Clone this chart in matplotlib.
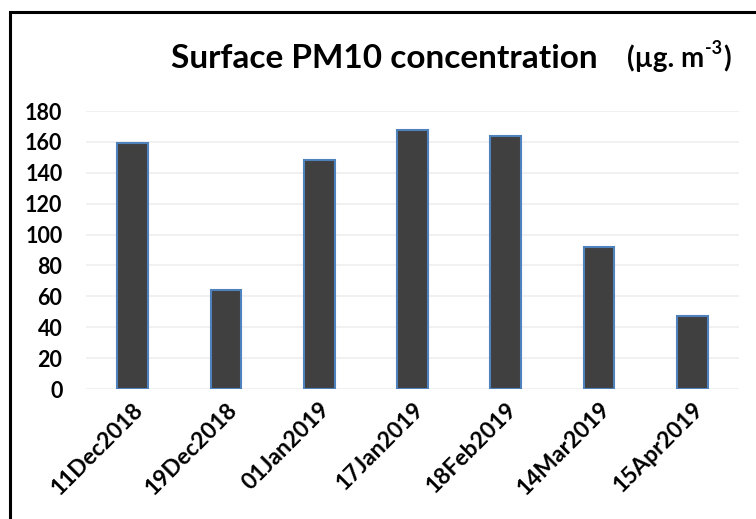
import matplotlib.pyplot as plt
from matplotlib.patches import Rectangle

# Sampling dates and surface PM10 values
dates = ['11Dec2018', '19Dec2018', '01Jan2019', '17Jan2019',
         '18Feb2019', '14Mar2019', '15Apr2019']
pm10 = [159, 64, 148, 168, 164, 92, 47]
yticks = [0, 20, 40, 60, 80, 100, 120, 140, 160, 180]

plt.rcParams['font.family'] = ['Lato', 'DejaVu Sans']
W, H = 756, 519

fig = plt.figure(figsize=(W / 100, H / 100), dpi=100)
ax = fig.add_axes([86 / W, 1 - 389 / H, (739 - 86) / W, (389 - 111) / H])

x = range(len(dates))
ax.bar(x, pm10, width=0.33, color='#404040', edgecolor='#4f81bd', linewidth=1.5, zorder=3)

ax.set_xlim(-0.5, len(dates) - 0.5)
ax.set_ylim(0, 180)
ax.set_yticks(yticks)
ax.set_yticklabels([str(t) for t in yticks], fontsize=15.5, fontweight='bold')
ax.set_xticks(list(x))
ax.set_xticklabels(dates, rotation=45, ha='right', rotation_mode='anchor',
                   fontsize=16.5, fontweight='bold')
ax.tick_params(length=0)
ax.tick_params(axis='x', pad=7)
ax.tick_params(axis='y', pad=17)
ax.grid(axis='y', color='#efefef', linewidth=1.2, zorder=0)
for s in ax.spines.values():
    s.set_visible(False)

# title, then units with a superscript
fig.text(171 / W, 1 - 68 / H, 'Surface PM10 concentration', fontsize=24,
         fontweight='bold', va='baseline', ha='left')
r = fig.canvas.get_renderer()
u1 = fig.text(627 / W, 1 - 67 / H, '(µg. m', fontsize=20, fontweight='bold',
              va='baseline', ha='left')
e1 = u1.get_window_extent(r)
u2 = fig.text(e1.x1 / W + 1 / W, 1 - 54 / H, '-3', fontsize=13, fontweight='bold',
              va='baseline', ha='left')
e2 = u2.get_window_extent(r)
fig.text(e2.x1 / W + 1 / W, 1 - 67 / H, ')', fontsize=20, fontweight='bold',
         va='baseline', ha='left')

# outer frame
fig.patches.append(Rectangle((9.5 / W, -0.05), 1.0, 1 - 11.5 / H + 0.05,
                             transform=fig.transFigure, fill=False,
                             edgecolor='black', linewidth=2.2))

fig.savefig('out.png', dpi=100)
